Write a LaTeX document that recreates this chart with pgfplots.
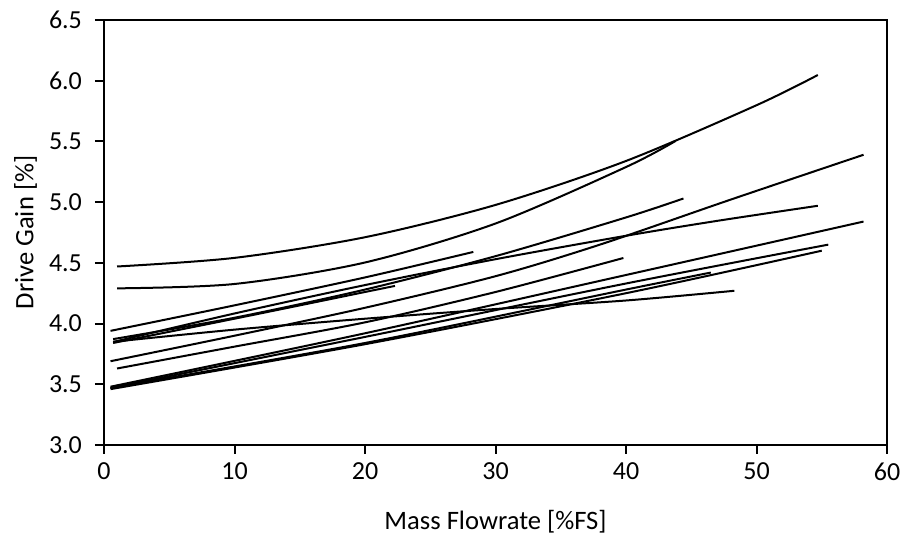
\documentclass[border=0pt]{standalone}
\usepackage{pgfplots}
\pgfplotsset{compat=1.18}
\usepackage{fontspec}
\setmainfont{Carlito}
\begin{document}
\begin{tikzpicture}
\begin{axis}[
  scale only axis, width=391.5pt, height=212.5pt,
  xmin=0, xmax=60, ymin=3, ymax=6.5,
  xtick={0,10,20,30,40,50,60},
  ytick={3,3.5,4,4.5,5,5.5,6,6.5},
  yticklabel style={/pgf/number format/fixed, /pgf/number format/fixed zerofill, /pgf/number format/precision=1, xshift=-3pt},
  xticklabel style={yshift=-1pt},
  /pgf/number format/assume math mode=true,
  tick align=outside, tick pos=left,
  major tick length=4.5pt,
  axis line style={line width=1pt},
  every tick/.style={black, line width=1pt},
  ticklabel style={font=\fontsize{13}{15}\selectfont},
  xlabel={Mass Flowrate [\%FS]}, ylabel={Drive Gain [\%]},
  label style={font=\fontsize{13.3}{15}\selectfont},
  xlabel style={at={(axis description cs:0.5,-0.181)}, anchor=center},
  ylabel style={at={(axis description cs:-0.100,0.5)}, anchor=center},
  cycle list={{black, solid}},
  every axis plot/.append style={black, line width=1pt, smooth, no marks},
]
% L1
\addplot coordinates {(1,4.47) (10,4.541) (20,4.711) (30,4.977) (40,5.339) (50,5.798) (54.7,6.047)};
% L2
\addplot coordinates {(1,4.29) (10,4.326) (20,4.503) (30,4.824) (40,5.289) (43.8,5.504)};
% L3
\addplot coordinates {(0.5,3.94) (10,4.15) (20,4.38) (28.3,4.59)};
% L4
\addplot coordinates {(0.7,3.872) (10,4.048) (20,4.28) (30,4.555) (40,4.874) (44.4,5.03)};
% L5
\addplot coordinates {(0.7,3.84) (10,4.04) (20,4.26) (22.3,4.31)};
% L6 (flat)
\addplot coordinates {(0.7,3.85) (10,3.95) (20,4.04) (30,4.12) (40,4.19) (48.3,4.27)};
% L10 (to 4.97)
\addplot coordinates {(0.7,3.848) (10,4.083) (20,4.317) (30,4.53) (40,4.723) (47,4.846) (54.7,4.97)};
% L7 (to 5.39)
\addplot coordinates {(0.5,3.69) (10,3.90) (20,4.13) (30,4.39) (38,4.65) (48,5.02) (58.2,5.39)};
% L8 (to 4.54)
\addplot coordinates {(1,3.63) (10,3.81) (20,4.01) (30,4.26) (39.8,4.54)};
% 3.47 cluster
\addplot coordinates {(0.5,3.48) (20,3.92) (40,4.40) (58.2,4.84)};
\addplot coordinates {(0.5,3.47) (20,3.89) (40,4.33) (55.5,4.65)};
\addplot coordinates {(0.5,3.46) (20,3.83) (40,4.25) (55,4.60)};
\addplot coordinates {(0.5,3.47) (20,3.84) (40,4.28) (46.5,4.42)};
\end{axis}
\pgfresetboundingbox
\path[use as bounding box] ([xshift=-52pt,yshift=-46.5pt]current axis.south west) rectangle ([xshift=10.5pt,yshift=10pt]current axis.north east);
\end{tikzpicture}
\end{document}
